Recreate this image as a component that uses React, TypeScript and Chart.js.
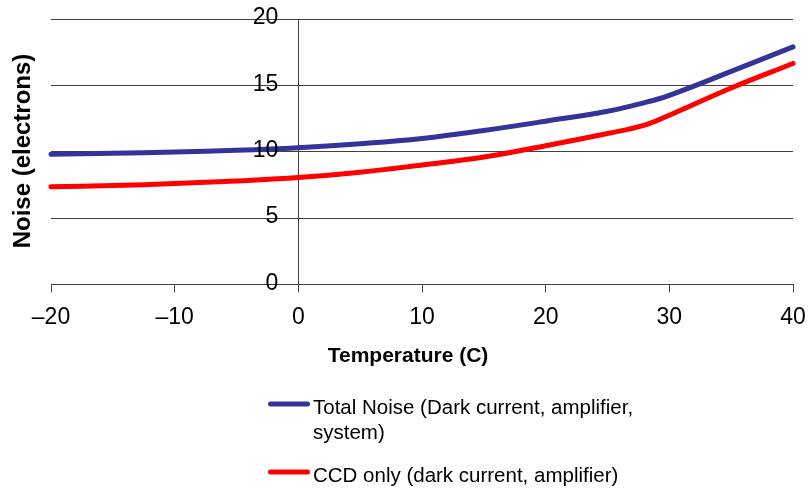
import React, { useEffect, useRef } from "react";
import { Chart, registerables } from "chart.js";

Chart.register(...registerables);

const temperatures = [-20, -15, -10, -5, 0, 5, 10, 15, 20, 25, 28, 30, 35, 40];
const totalNoise = [9.8, 9.88, 9.97, 10.1, 10.3, 10.6, 11.0, 11.6, 12.3, 13.05, 13.7, 14.25, 16.05, 17.9];
const ccdOnly = [7.35, 7.45, 7.6, 7.8, 8.05, 8.45, 9.0, 9.6, 10.45, 11.37, 12.0, 12.75, 14.8, 16.65];
const seriesLabels = [
  "Total Noise (Dark current, amplifier, system)",
  "CCD only (dark current, amplifier)",
];
const xTickValues = [-20, -10, 0, 10, 20, 30, 40];
const yTickValues = [0, 5, 10, 15, 20];
const xTitle = "Temperature (C)";
const yTitle = "Noise (electrons)";

const FONT = '"Liberation Sans", Arial, Helvetica, sans-serif';
const BLUE = "#333399";
const RED = "#ff0000";
const GRID = "#404040";

function wrapText(ctx: CanvasRenderingContext2D, text: string, maxWidth: number): string[] {
  const words = text.split(" ");
  const lines: string[] = [];
  let cur = "";
  for (const w of words) {
    const test = cur ? cur + " " + w : w;
    if (ctx.measureText(test).width > maxWidth && cur) {
      lines.push(cur);
      cur = w;
    } else {
      cur = test;
    }
  }
  if (cur) lines.push(cur);
  return lines;
}

const overlayPlugin = {
  id: "overlay",
  afterDraw(chart: any) {
    const ctx: CanvasRenderingContext2D = chart.ctx;
    const xs = chart.scales.x;
    const ys = chart.scales.y;
    ctx.save();
    ctx.fillStyle = "#000";
    // y tick labels, left of the y axis that crosses at x = 0
    const axisX = xs.getPixelForValue(0);
    ctx.font = `23px ${FONT}`;
    ctx.textAlign = "right";
    ctx.textBaseline = "middle";
    ys.ticks.forEach((t: any) => {
      ctx.fillText(String(t.value), axisX - 20, ys.getPixelForValue(t.value) - 1);
    });
    // x title
    ctx.font = `bold 21px ${FONT}`;
    ctx.textAlign = "center";
    ctx.textBaseline = "alphabetic";
    ctx.fillText(xTitle, 408, 362);
    // y title
    ctx.save();
    ctx.translate(29.5, 151);
    ctx.rotate(-Math.PI / 2);
    ctx.font = `bold 24px ${FONT}`;
    ctx.fillText(yTitle, 0, 0);
    ctx.restore();
    // legend
    const rows = [404, 472];
    ctx.font = `20.5px ${FONT}`;
    ctx.textAlign = "left";
    chart.data.datasets.forEach((ds: any, i: number) => {
      const y0 = rows[i];
      ctx.beginPath();
      ctx.strokeStyle = ds.borderColor;
      ctx.lineWidth = 5;
      ctx.lineCap = "round";
      ctx.moveTo(270.5, y0);
      ctx.lineTo(307.5, y0);
      ctx.stroke();
      const lines = wrapText(ctx, ds.label, 335);
      lines.forEach((ln, j) => {
        ctx.fillText(ln, 313, y0 + 10 + j * 25);
      });
    });
    ctx.restore();
  },
};

export default function App() {
  const ref = useRef<HTMLCanvasElement>(null);
  useEffect(() => {
    if (!ref.current) return;
    const chart = new Chart(ref.current, {
      type: "line",
      data: {
        datasets: [
          {
            label: seriesLabels[0],
            data: temperatures.map((t, i) => ({ x: t, y: totalNoise[i] })),
            borderColor: BLUE,
            backgroundColor: BLUE,
            borderWidth: 5,
            borderCapStyle: "round",
            borderJoinStyle: "round",
            pointRadius: 0,
            tension: 0.4,
            clip: false as any,
          },
          {
            label: seriesLabels[1],
            data: temperatures.map((t, i) => ({ x: t, y: ccdOnly[i] })),
            borderColor: RED,
            backgroundColor: RED,
            borderWidth: 5,
            borderCapStyle: "round",
            borderJoinStyle: "round",
            pointRadius: 0,
            tension: 0.4,
            clip: false as any,
          },
        ],
      },
      options: {
        animation: false,
        responsive: true,
        maintainAspectRatio: false,
        layout: { padding: { left: 51, right: 16, top: 19, bottom: 149 } },
        plugins: {
          legend: { display: false },
          tooltip: { enabled: false },
        },
        scales: {
          x: {
            type: "linear",
            min: -20,
            max: 40,
            afterBuildTicks: (s: any) => {
              s.ticks = xTickValues.map((v) => ({ value: v }));
            },
            afterFit: (s: any) => {
              s.paddingLeft = 0;
              s.paddingRight = 0;
            },
            grid: {
              drawOnChartArea: false,
              drawTicks: true,
              tickLength: 8,
              color: GRID,
            },
            border: { display: true, color: GRID, width: 1 },
            ticks: {
              color: "#000",
              font: { family: FONT, size: 23 },
              padding: 11,
              maxRotation: 0,
              autoSkip: false,
              callback: (v: any) => String(v).replace("-", "\u2013"),
            },
          },
          y: {
            type: "linear",
            position: { x: 0 } as any,
            min: 0,
            max: 20,
            afterBuildTicks: (s: any) => {
              s.ticks = yTickValues.map((v) => ({ value: v }));
            },
            grid: {
              drawOnChartArea: true,
              drawTicks: true,
              tickLength: 7,
              color: GRID,
            },
            border: { display: true, color: GRID, width: 1 },
            ticks: { display: false },
          },
        },
      },
      plugins: [overlayPlugin],
    });
    return () => chart.destroy();
  }, []);
  return (
    <div style={{ position: "fixed", left: 0, top: 0, width: 809, height: 491, background: "#fff" }}>
      <canvas ref={ref} />
    </div>
  );
}
